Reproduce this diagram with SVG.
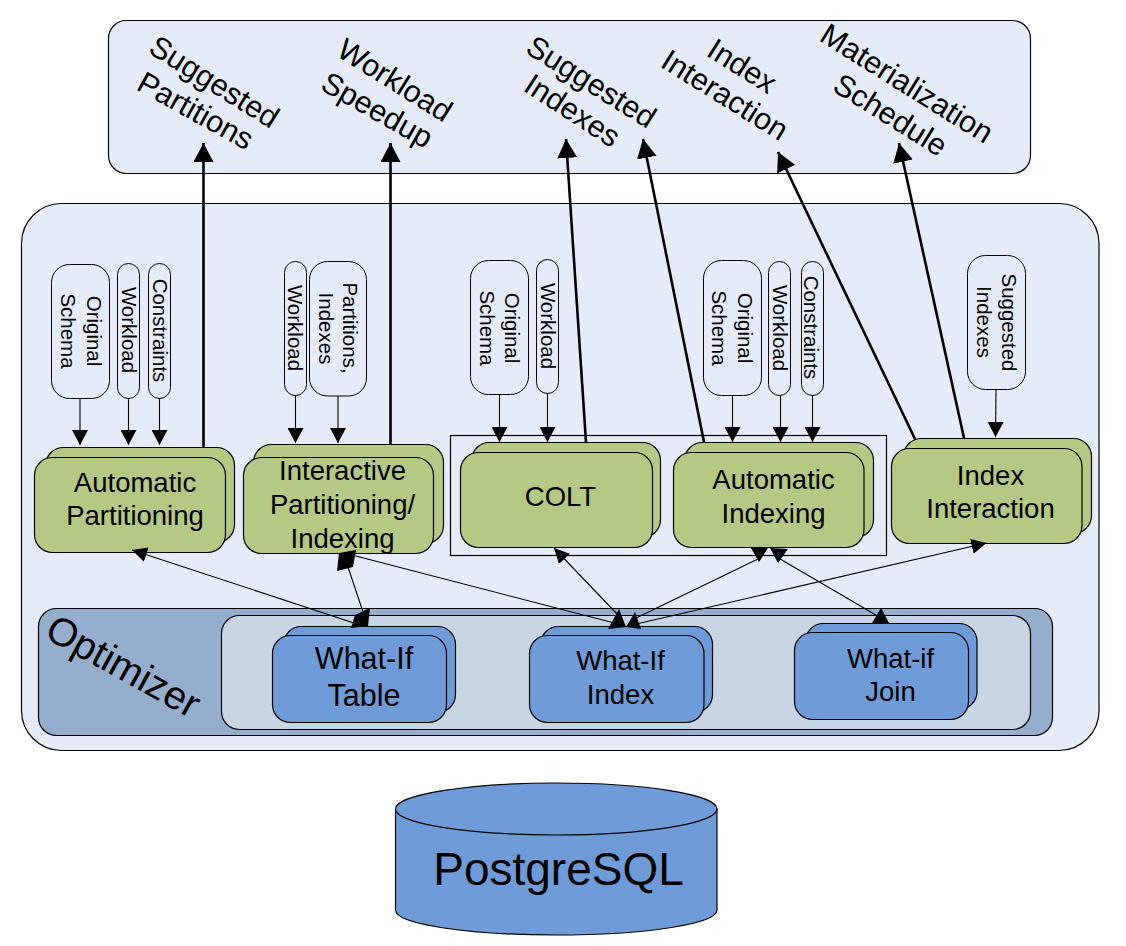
<svg xmlns="http://www.w3.org/2000/svg" width="1126" height="946" viewBox="0 0 1126 946">
<style>
text{font-family:"Liberation Sans",Arial,sans-serif;fill:#000}
rect,ellipse,.cyl{stroke:#000;stroke-width:1.2}
.panel{fill:#E6ECF7}
.green{fill:#B5C985}
.blue{fill:#6F9BD8}
.pill{fill:#E6ECF7;stroke-width:1}
.l27{font-size:27.500px;text-anchor:middle}
.p{font-size:20.500px;text-anchor:middle}
.top{font-size:30.500px}
.thin{stroke:#000;stroke-width:1.1;fill:none}
.thick{stroke:#000;stroke-width:2.6;fill:none}
.in{marker-end:url(#mIn)}
.up{marker-end:url(#mUp)}
.dbl{marker-end:url(#mDbl)}
</style>
<defs>
<marker id="mIn" markerUnits="userSpaceOnUse" markerWidth="16" markerHeight="16" refX="15" refY="8" orient="auto"><path d="M0 0L15 8L0 16Z" fill="#000"/></marker>
<marker id="mUp" markerUnits="userSpaceOnUse" markerWidth="20" markerHeight="20" refX="19" refY="10" orient="auto"><path d="M0 0L19 10L0 20Z" fill="#000"/></marker>
<marker id="mDbl" markerUnits="userSpaceOnUse" markerWidth="16" markerHeight="16" refX="15" refY="8" orient="auto"><path d="M0 0.500L15 8L0 15.500Z" fill="#000"/></marker>
</defs>

<g id="outputs">
<rect class="panel" x="108.500" y="20.500" width="922" height="153" rx="18"/>
<text class="top" transform="translate(147,52) rotate(32)">Suggested</text>
<text class="top" transform="translate(135,89) rotate(29)">Partitions</text>
<text class="top" transform="translate(335,55) rotate(32)">Workload</text>
<text class="top" transform="translate(319,89) rotate(29.500)">Speedup</text>
<text class="top" transform="translate(524,52) rotate(32)">Suggested</text>
<text class="top" transform="translate(522,90) rotate(33)">Indexes</text>
<text class="top" transform="translate(705,55) rotate(32)">Index</text>
<text class="top" transform="translate(659,66) rotate(32)">Interaction</text>
<text class="top" transform="translate(818,40) rotate(32)">Materialization</text>
<text class="top" transform="translate(831,90) rotate(32)">Schedule</text>
</g>

<g id="engine">
<rect class="panel" x="21.500" y="203.500" width="1077.500" height="547" rx="40"/>
</g>

<g id="optimizer">
<rect x="38.500" y="608.500" width="1014" height="127" rx="18" fill="#96AECE"/>
<rect x="221.500" y="615.500" width="809" height="114" rx="18" fill="#C8D5E5"/>
<text font-size="39.500" transform="translate(43,637) rotate(29)">Optimizer</text>
</g>

<g id="colt-frame"><rect x="450.500" y="435.500" width="436" height="120" fill="none"/></g>

<g id="pills-auto-partitioning">
<rect class="pill" x="51.500" y="264.500" width="58" height="134" rx="18"/>
<text class="p" transform="translate(87,331) rotate(90)">Original</text>
<text class="p" transform="translate(61,331) rotate(90)">Schema</text>
<rect class="pill" x="117.500" y="263.500" width="22" height="135" rx="11"/>
<text class="p" transform="translate(122,330) rotate(90)">Workload</text>
<rect class="pill" x="148.500" y="263.500" width="22" height="135" rx="11"/>
<text class="p" transform="translate(152.500,330.500) rotate(90)">Constraints</text>
</g>
<g id="pills-interactive">
<rect class="pill" x="284.500" y="261.500" width="22" height="134" rx="11"/>
<text class="p" transform="translate(288,328) rotate(90)">Workload</text>
<rect class="pill" x="309.500" y="261.500" width="57" height="134.500" rx="18"/>
<text class="p" transform="translate(343,328) rotate(90)">Partitions,</text>
<text class="p" transform="translate(318.500,328.500) rotate(90)">Indexes</text>
</g>
<g id="pills-colt">
<rect class="pill" x="470.500" y="260.500" width="58" height="134" rx="18"/>
<text class="p" transform="translate(505,328) rotate(90)">Original</text>
<text class="p" transform="translate(480,328) rotate(90)">Schema</text>
<rect class="pill" x="536.500" y="259.500" width="22" height="134" rx="11"/>
<text class="p" transform="translate(540.500,326) rotate(90)">Workload</text>
</g>
<g id="pills-auto-indexing">
<rect class="pill" x="703.500" y="260.500" width="58" height="135" rx="18"/>
<text class="p" transform="translate(738,328) rotate(90)">Original</text>
<text class="p" transform="translate(712,328) rotate(90)">Schema</text>
<rect class="pill" x="768.500" y="261.500" width="22" height="134" rx="11"/>
<text class="p" transform="translate(773,328) rotate(90)">Workload</text>
<rect class="pill" x="801.500" y="261.500" width="22" height="134" rx="11"/>
<text class="p" transform="translate(804,327.500) rotate(90)">Constraints</text>
</g>
<g id="pill-suggested">
<rect class="pill" x="967.500" y="255.500" width="58" height="134" rx="18"/>
<text class="p" transform="translate(1002,322.500) rotate(90)">Suggested</text>
<text class="p" transform="translate(977,322) rotate(90)">Indexes</text>
</g>

<g id="automatic-partitioning">
<rect class="green" x="45.500" y="447.500" width="189" height="95" rx="18"/>
<rect class="green" x="34.500" y="457.500" width="191" height="95" rx="18"/>
<text class="l27" x="135" y="492">Automatic</text>
<text class="l27" x="135" y="525">Partitioning</text>
</g>
<g id="interactive-partitioning">
<rect class="green" x="253.500" y="444.500" width="190" height="99" rx="18"/>
<rect class="green" x="243.500" y="457.500" width="190" height="96" rx="18"/>
<text class="l27" x="342.500" y="480">Interactive</text>
<text class="l27" x="342.500" y="514">Partitioning/</text>
<text class="l27" x="342.500" y="548">Indexing</text>
</g>
<g id="colt">
<rect class="green" x="471.500" y="442.500" width="189" height="95" rx="18"/>
<rect class="green" x="460.500" y="452.500" width="192" height="95" rx="18"/>
<text class="l27" x="560.500" y="506">COLT</text>
</g>
<g id="automatic-indexing">
<rect class="green" x="684.500" y="442.500" width="189" height="95" rx="18"/>
<rect class="green" x="673.500" y="452.500" width="190.500" height="95" rx="18"/>
<text class="l27" x="773.500" y="489">Automatic</text>
<text class="l27" x="773.500" y="523">Indexing</text>
</g>
<g id="index-interaction">
<rect class="green" x="903.500" y="438.500" width="188" height="95" rx="18"/>
<rect class="green" x="891.500" y="448.500" width="190.500" height="95" rx="18"/>
<text class="l27" x="990.500" y="485">Index</text>
<text class="l27" x="990.500" y="518">Interaction</text>
</g>

<g id="what-if-table">
<rect class="blue" x="283.500" y="626.500" width="172" height="86" rx="18"/>
<rect class="blue" x="272.500" y="635.500" width="174" height="87" rx="18"/>
<text font-size="30.500" text-anchor="middle" x="364" y="669">What-If</text>
<text font-size="30.500" text-anchor="middle" x="364" y="706">Table</text>
</g>
<g id="what-if-index">
<rect class="blue" x="540.500" y="626.500" width="172" height="86" rx="18"/>
<rect class="blue" x="529.500" y="635.500" width="174.500" height="87" rx="18"/>
<text class="l27" x="620.500" y="670">What-If</text>
<text class="l27" x="620.500" y="704">Index</text>
</g>
<g id="what-if-join">
<rect class="blue" x="805.500" y="623.500" width="171.500" height="86" rx="18"/>
<rect class="blue" x="794.500" y="632.500" width="174" height="87" rx="18"/>
<text class="l27" x="890.500" y="668">What-if</text>
<text class="l27" x="890.500" y="701">Join</text>
</g>

<g id="postgresql">
<path class="cyl" d="M395.500 809V910C395.500 924 467 935 556 935S717 924 717 910V809Z" fill="#6F9BD8"/>
<ellipse cx="556.250" cy="809" rx="160.750" ry="26" fill="#6F9BD8"/>
<text font-size="46" text-anchor="middle" x="558.500" y="885">PostgreSQL</text>
</g>

<g id="connectors">
<path class="thin in" d="M80 398V445"/>
<path class="thin in" d="M128.500 398V445"/>
<path class="thin in" d="M159.500 398V445"/>
<path class="thin in" d="M295.500 395V443"/>
<path class="thin in" d="M338 396V443"/>
<path class="thin in" d="M499.500 394V442"/>
<path class="thin in" d="M547.500 393V442"/>
<path class="thin in" d="M732.500 395V442"/>
<path class="thin in" d="M780.500 395V442"/>
<path class="thin in" d="M812.500 395V442"/>
<path class="thin in" d="M996 389L995.500 437"/>

<path class="thick up" d="M203.500 447V143"/>
<path class="thick up" d="M390.500 444V143"/>
<path class="thick up" d="M586 442L566 139"/>
<path class="thick up" d="M704 442L643 139"/>
<path class="thick up" d="M915 439L778 152"/>
<path class="thick up" d="M964 438L899 143"/>

<path class="thin dbl" d="M360 625L132 550"/>
<path class="thin" d="M363 612L348 567"/>
<path class="thin" d="M352 555L622 625"/>
<path class="thin dbl" d="M618 615L554 548"/>
<path class="thin" d="M632 620L760 558"/>
<path class="thin dbl" d="M632 625L986.500 543"/>
<path class="thin" d="M775 556L881 618"/>
<polygon points="370,608 368,626 351,628 355,615"/>
<polygon points="356,550 339,553 337,571 353,567"/>
<polygon points="619,609 608,629 626,627"/>
<polygon points="635,612 626,627 641,629"/>
<polygon points="751,548 768,548 759,562"/>
<polygon points="770,548 788,549 778,563"/>
<polygon points="881,608 872,623 889,623"/>
</g>
</svg>
